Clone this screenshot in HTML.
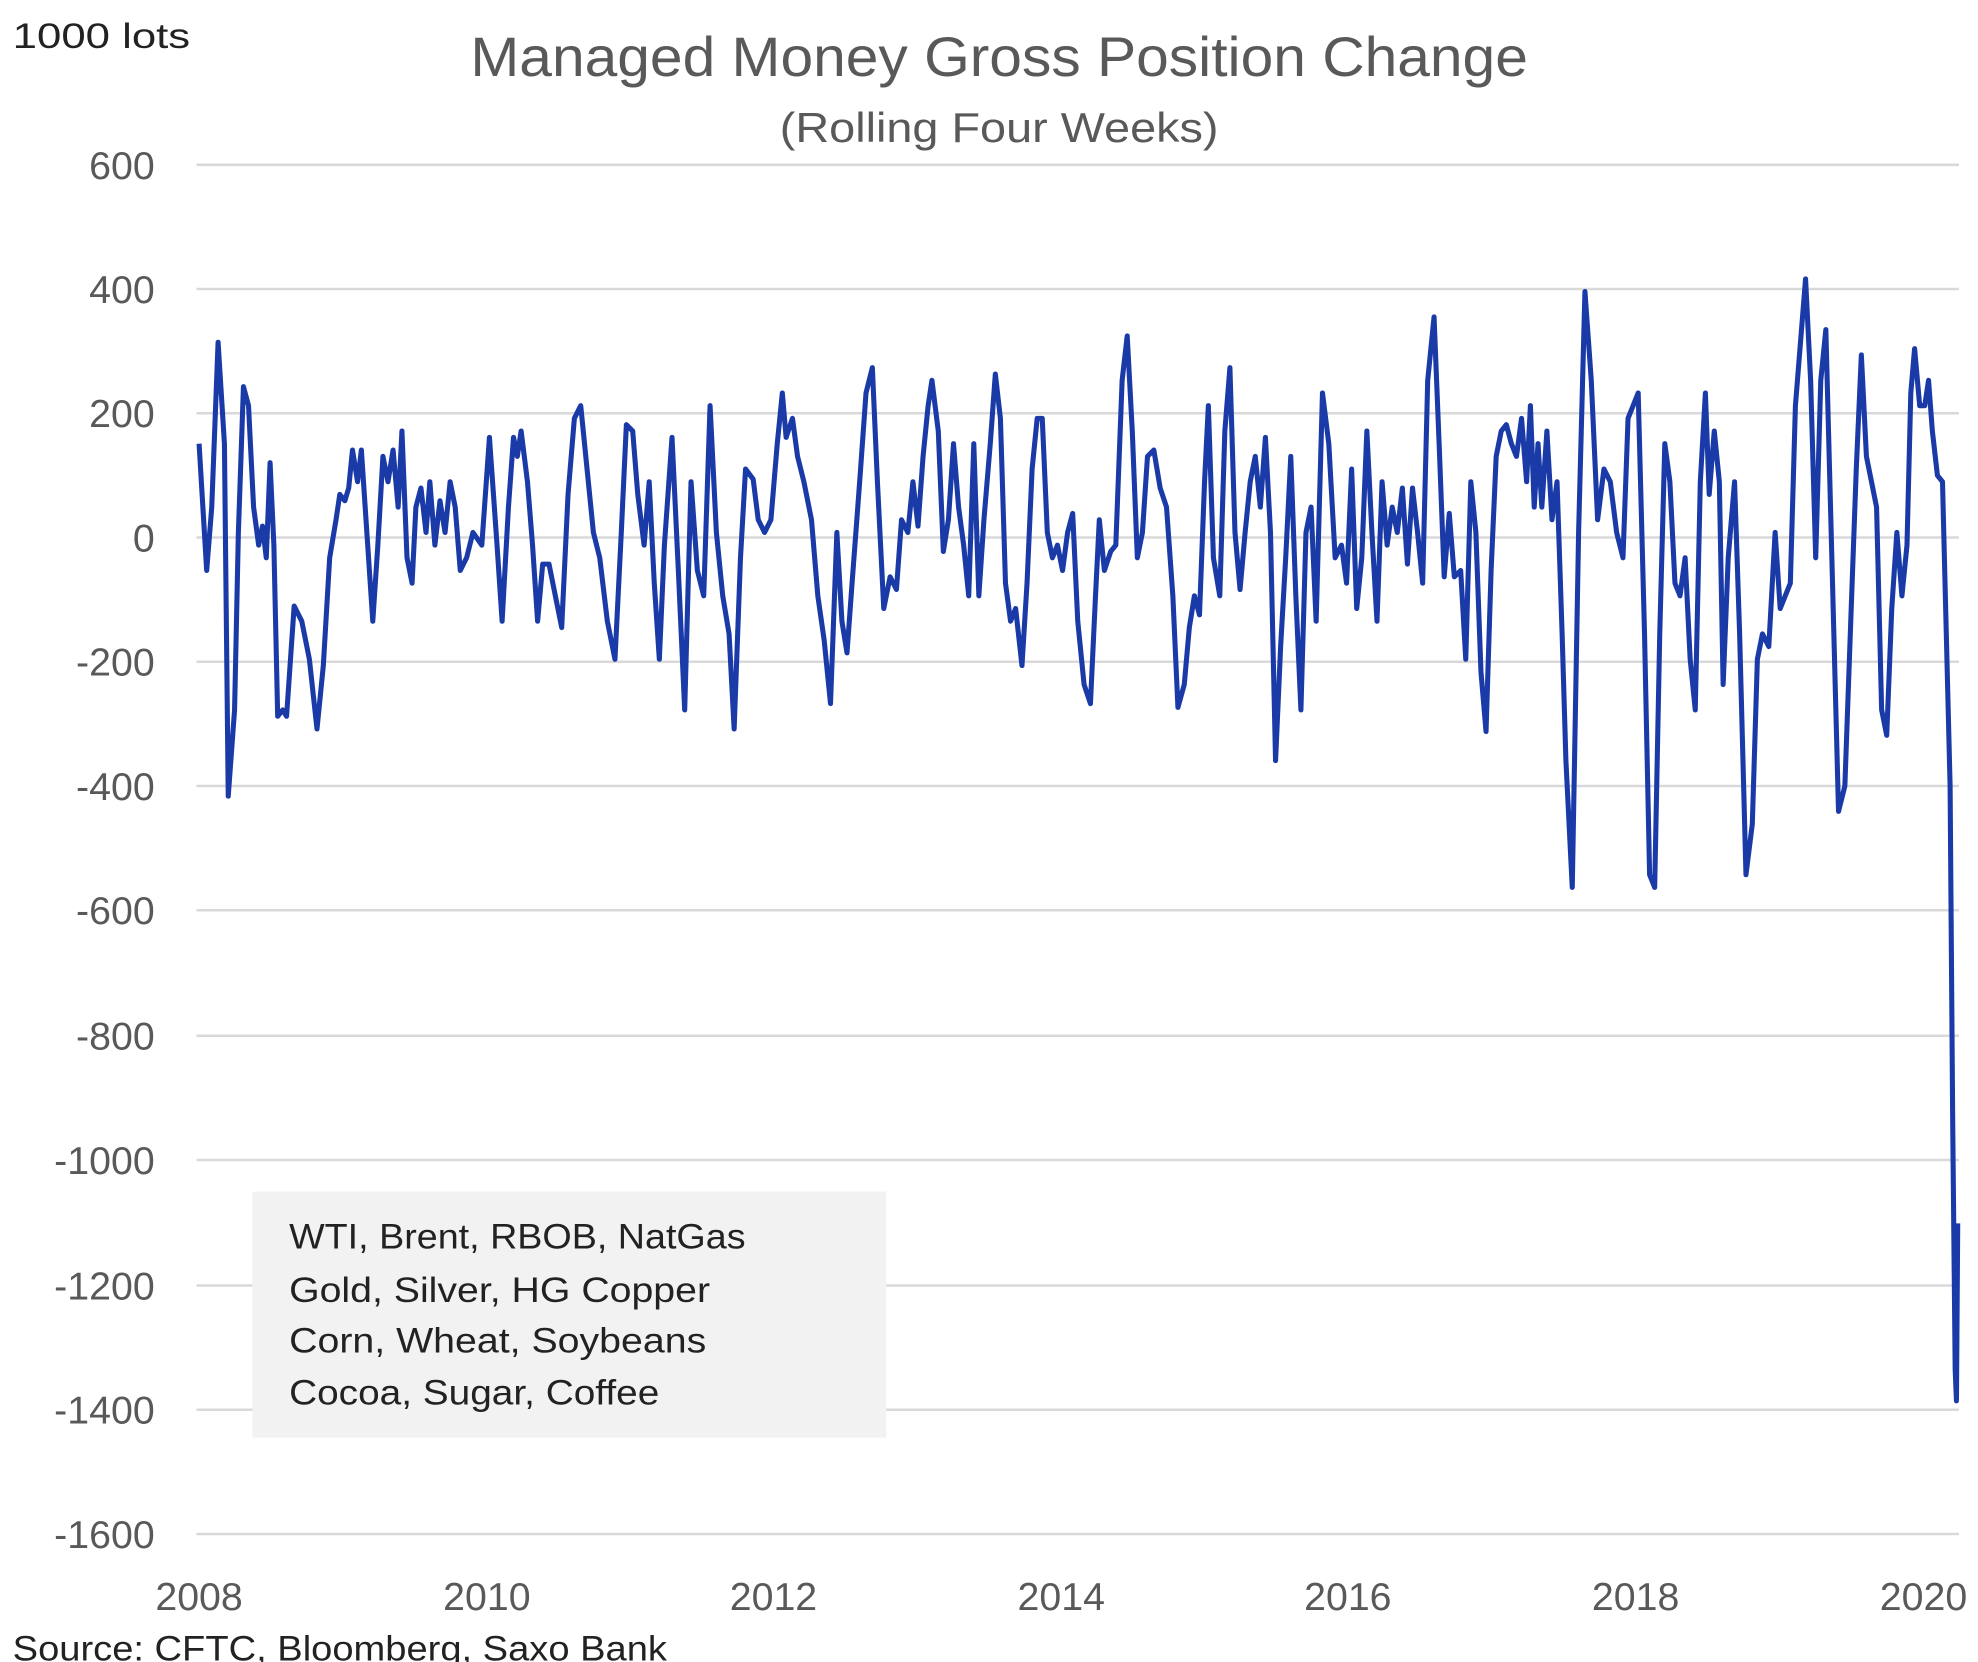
<!DOCTYPE html>
<html><head><meta charset="utf-8"><style>html,body{margin:0;padding:0;background:#fff}svg{display:block}</style></head>
<body>
<svg width="1978" height="1662" viewBox="0 0 1560 1311" preserveAspectRatio="none" xmlns="http://www.w3.org/2000/svg" font-family="'Liberation Sans', sans-serif">
<rect width="1560" height="1311" fill="#fff"/>
<g stroke="#d9d9d9" stroke-width="2">
<line x1="155" x2="1545" y1="130" y2="130"/><line x1="155" x2="1545" y1="228" y2="228"/><line x1="155" x2="1545" y1="326" y2="326"/><line x1="155" x2="1545" y1="424" y2="424"/><line x1="155" x2="1545" y1="522" y2="522"/><line x1="155" x2="1545" y1="620" y2="620"/><line x1="155" x2="1545" y1="718" y2="718"/><line x1="155" x2="1545" y1="817" y2="817"/><line x1="155" x2="1545" y1="915" y2="915"/><line x1="155" x2="1545" y1="1014" y2="1014"/><line x1="155" x2="1545" y1="1112" y2="1112"/><line x1="155" x2="1545" y1="1210" y2="1210"/>
</g>
<rect x="199" y="940" width="500" height="194" fill="#f2f2f2"/>
<g fill="#595959" font-size="31" text-anchor="end">
<text x="122" y="141">600</text><text x="122" y="239">400</text><text x="122" y="337">200</text><text x="122" y="435">0</text><text x="122" y="533">-200</text><text x="122" y="631">-400</text><text x="122" y="729">-600</text><text x="122" y="828">-800</text><text x="122" y="926">-1000</text><text x="122" y="1025">-1200</text><text x="122" y="1123">-1400</text><text x="122" y="1221">-1600</text>
</g>
<g fill="#595959" font-size="31" text-anchor="middle">
<text x="157" y="1270">2008</text><text x="384" y="1270">2010</text><text x="610" y="1270">2012</text><text x="837" y="1270">2014</text><text x="1063" y="1270">2016</text><text x="1290" y="1270">2018</text><text x="1517" y="1270">2020</text>
</g>
<text x="10" y="38" font-size="28" fill="#222" textLength="140" lengthAdjust="spacingAndGlyphs">1000 lots</text>
<text x="788" y="60" font-size="44" fill="#595959" text-anchor="middle" textLength="834" lengthAdjust="spacingAndGlyphs">Managed Money Gross Position Change</text>
<text x="788" y="112" font-size="33" fill="#595959" text-anchor="middle" textLength="346" lengthAdjust="spacingAndGlyphs">(Rolling Four Weeks)</text>
<g font-size="28" fill="#222">
<text x="228" y="985" textLength="360" lengthAdjust="spacingAndGlyphs">WTI, Brent, RBOB, NatGas</text>
<text x="228" y="1027" textLength="332" lengthAdjust="spacingAndGlyphs">Gold, Silver, HG Copper</text>
<text x="228" y="1067" textLength="329" lengthAdjust="spacingAndGlyphs">Corn, Wheat, Soybeans</text>
<text x="228" y="1108" textLength="292" lengthAdjust="spacingAndGlyphs">Cocoa, Sugar, Coffee</text>
</g>
<text x="10" y="1310" font-size="28" fill="#222" textLength="516" lengthAdjust="spacingAndGlyphs">Source: CFTC, Bloomberg, Saxo Bank</text>
<polyline fill="none" stroke="#1a3aa8" stroke-width="4" stroke-linejoin="round" points="157,350 163,450 167,400 172,270 177,350 180,628 185,560 188,420 192,305 196,320 200,400 204,430 207,415 210,440 213,365 216,430 219,565 223,560 226,565 232,478 238,490 244,520 250,575 255,525 260,440 265,410 268,390 272,395 275,385 278,355 282,380 285,355 290,430 294,490 298,430 302,360 306,380 310,355 314,400 317,340 321,440 325,460 328,400 332,385 336,420 339,380 343,430 347,395 351,420 355,380 359,400 363,450 368,440 373,420 380,430 386,345 392,430 396,490 401,400 405,345 408,360 411,340 416,380 420,430 424,490 428,445 433,445 438,470 443,495 448,390 453,330 458,320 463,370 468,420 473,440 479,490 485,520 490,420 494,335 499,340 503,390 508,430 512,380 516,460 520,520 524,430 530,345 535,450 540,560 545,380 550,450 555,470 560,320 565,420 570,470 575,500 579,575 584,440 588,370 594,378 598,410 603,420 608,410 613,350 617,310 620,345 625,330 629,360 634,380 640,410 645,470 650,505 655,555 660,420 664,490 668,515 672,460 678,380 683,310 688,290 692,380 697,480 702,455 707,465 711,410 716,420 720,380 724,415 728,360 732,320 735,300 740,340 744,435 748,410 752,350 756,400 760,430 764,470 768,350 772,470 776,410 781,350 785,295 789,330 793,460 797,490 801,480 806,525 810,460 814,370 818,330 822,330 826,420 830,440 834,430 838,450 842,420 846,405 850,490 855,540 860,555 864,470 867,410 871,450 876,435 880,430 885,300 889,265 893,340 897,440 901,420 905,360 910,355 915,385 920,400 925,470 929,558 934,540 938,495 942,470 946,485 950,380 953,320 957,440 962,470 966,340 970,290 974,420 978,465 982,420 986,380 990,360 994,400 998,345 1002,420 1006,600 1010,510 1014,440 1018,360 1022,470 1026,560 1030,420 1034,400 1038,490 1043,310 1048,350 1053,440 1058,430 1062,460 1066,370 1070,480 1074,440 1078,340 1082,420 1086,490 1090,380 1094,430 1098,400 1102,420 1106,385 1110,445 1114,385 1118,420 1122,460 1126,300 1131,250 1135,350 1139,455 1143,405 1147,455 1152,450 1156,520 1160,380 1164,420 1168,530 1172,577 1176,450 1180,360 1184,340 1188,335 1192,350 1196,360 1200,330 1204,380 1207,320 1210,400 1213,350 1216,400 1220,340 1224,410 1228,380 1232,500 1235,600 1240,700 1245,420 1250,230 1255,300 1260,410 1265,370 1270,380 1275,420 1280,440 1284,330 1288,320 1292,310 1297,500 1301,690 1305,700 1309,500 1313,350 1317,380 1321,460 1325,470 1329,440 1333,520 1337,560 1341,380 1345,310 1348,390 1352,340 1356,380 1359,540 1363,440 1368,380 1372,500 1377,690 1382,650 1386,520 1390,500 1395,510 1400,420 1404,480 1408,470 1412,460 1416,320 1420,270 1424,220 1428,300 1432,440 1436,300 1440,260 1445,450 1450,640 1455,620 1460,480 1464,370 1468,280 1472,360 1476,380 1480,400 1484,560 1488,580 1492,480 1496,420 1500,470 1504,430 1507,310 1510,275 1514,320 1518,320 1521,300 1524,340 1528,375 1532,380 1535,500 1538,620 1540,880 1542,1080 1543,1105 1544,965"/>
</svg>
</body></html>
